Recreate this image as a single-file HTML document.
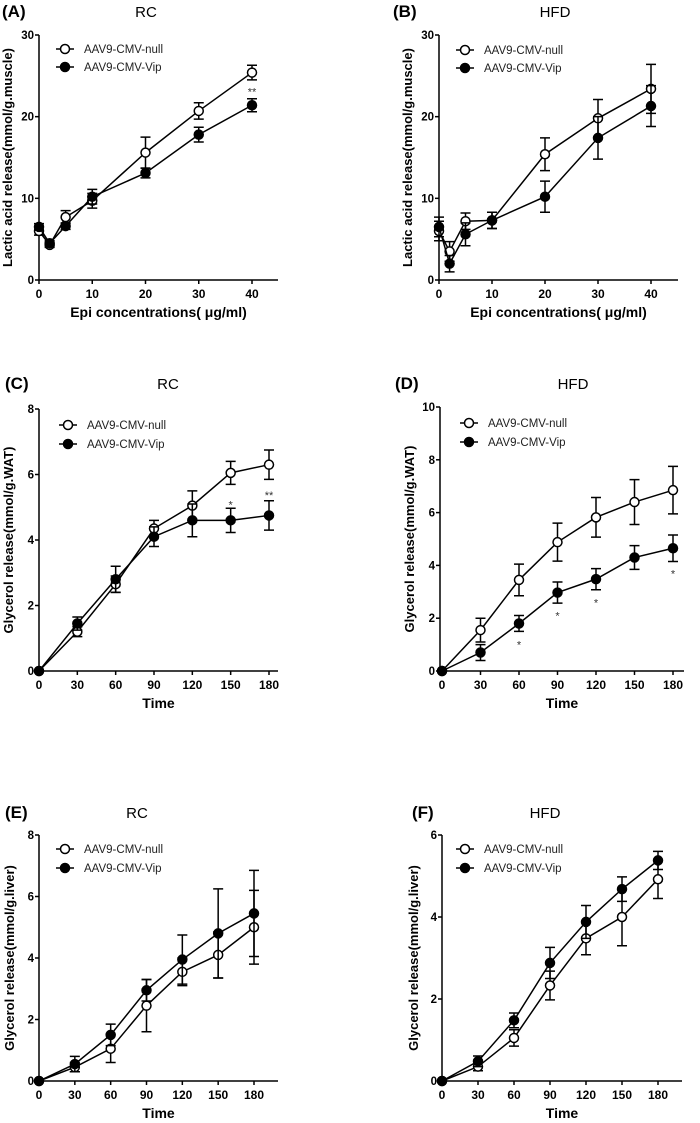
<!DOCTYPE html>
<html><head><meta charset="utf-8"><style>
body{margin:0;background:#fff;}
svg{display:block;font-family:"Liberation Sans",Arial,sans-serif;}
</style></head><body>
<svg id="fig" width="700" height="1123" viewBox="0 0 700 1123"></svg>
<script>
// ---- data ----
const xEpi=[0,2,5,10,20,30,40];
const xTime=[0,30,60,90,120,150,180];
const aNull=[6.0,4.3,7.7,9.7,15.6,20.7,25.4];
const aNullErr=[0.5,0.3,0.8,0.9,1.9,1.0,0.9];
const aVip=[6.5,4.5,6.6,10.2,13.1,17.8,21.4];
const aVipErr=[0.4,0.3,0.4,0.9,0.6,0.9,0.8];
const bNull=[6.0,3.5,7.2,7.3,15.4,19.8,23.4];
const bNullErr=[1.2,1.2,1.0,1.0,2.0,2.3,3.0];
const bVip=[6.5,2.0,5.6,7.3,10.2,17.4,21.3];
const bVipErr=[1.2,1.0,1.4,1.0,1.9,2.6,2.5];
const cNull=[0,1.2,2.65,4.35,5.05,6.05,6.3];
const cNullErr=[0,0.15,0.25,0.25,0.45,0.35,0.45];
const cVip=[0,1.45,2.8,4.1,4.6,4.6,4.75];
const cVipErr=[0,0.2,0.4,0.3,0.5,0.37,0.45];
const dNull=[0,1.55,3.45,4.88,5.82,6.4,6.85];
const dNullErr=[0,0.45,0.6,0.72,0.75,0.85,0.9];
const dVip=[0,0.7,1.8,2.97,3.48,4.3,4.65];
const dVipErr=[0,0.3,0.3,0.4,0.4,0.45,0.5];
const eNull=[0,0.45,1.05,2.45,3.55,4.1,5.0];
const eNullErr=[0,0.15,0.45,0.85,0.45,0.75,1.2];
const eVip=[0,0.55,1.5,2.95,3.95,4.8,5.45];
const eVipErr=[0,0.25,0.35,0.35,0.8,1.45,1.4];
const fNull=[0,0.35,1.05,2.33,3.48,4.0,4.92];
const fNullErr=[0,0.1,0.2,0.35,0.4,0.7,0.47];
const fVip=[0,0.48,1.48,2.88,3.88,4.68,5.38];
const fVipErr=[0,0.13,0.18,0.38,0.4,0.3,0.22];
const epiTicks=[0,10,20,30,40];
const timeTicks=[0,30,60,90,120,150,180];
const seriesNames=["AAV9-CMV-null","AAV9-CMV-Vip"];

const NS="http://www.w3.org/2000/svg";
const svg=document.getElementById('fig');
function el(tag,attrs,parent,text){const e=document.createElementNS(NS,tag);for(const k in attrs)e.setAttribute(k,attrs[k]);if(text!==undefined)e.textContent=text;(parent||svg).appendChild(e);return e;}

function panel(p){
  const g=el('g',{});
  
  
  const sx=v=>p.x0+(v-p.xmin)/(p.xmax-p.xmin)*(p.x1-p.x0);
  const sy=v=>p.y0-(v/p.ymax)*(p.y0-p.y1);
  let t=el('text',{x:p.lblX,y:p.lblY,'font-size':17,'font-weight':'bold'},g,'('+p.id.toUpperCase()+')');
  
  t=el('text',{x:p.titleX,y:p.lblY,'font-size':15,'text-anchor':'middle'},g,p.title);
  
  let a=el('line',{x1:p.axX,y1:p.y1,x2:p.axX,y2:p.y0,stroke:'#000','stroke-width':1.5},g);
  
  a=el('line',{x1:p.axX,y1:p.y0,x2:p.axEnd,y2:p.y0,stroke:'#000','stroke-width':1.5},g);
  
  p.yticks.forEach(v=>{
    el('line',{x1:p.axX-4,y1:sy(v),x2:p.axX,y2:sy(v),stroke:'#000','stroke-width':1.5},g);
    const tl=el('text',{x:p.axX-5,y:sy(v)+4,'font-size':11.5,'font-weight':'bold','text-anchor':'end'},g,v);
    
  });
  p.xticks.forEach(v=>{
    el('line',{x1:sx(v),y1:p.y0,x2:sx(v),y2:p.y0+4,stroke:'#000','stroke-width':1.5},g);
    const tl=el('text',{x:sx(v),y:p.y0+18,'font-size':12,'font-weight':'bold','text-anchor':'middle'},g,v);
    
  });
  t=el('text',{x:(p.axX+p.axEnd)/2,y:p.y0+37,'font-size':14,'font-weight':'bold','text-anchor':'middle'},g,p.xtitle);
  
  const cy=(p.y0+p.y1)/2;
  t=el('text',{x:p.ytX,y:cy,'font-size':13,'font-weight':'bold','text-anchor':'middle',transform:`rotate(-90 ${p.ytX} ${cy})`},g,p.ytitle);
  
  const series=[[p.nul,p.nulErr,'#fff'],[p.vip,p.vipErr,'#000']];
  series.forEach(([vals,errs,fill],si)=>{
    const sg=el('g',{},g);
    
    
    el('polyline',{points:vals.map((v,i)=>sx(p.xs[i])+','+sy(v)).join(' '),fill:'none',stroke:'#000','stroke-width':1.5},sg);
    vals.forEach((v,i)=>{
      const X=sx(p.xs[i]),e=errs[i];
      if(e>0){
        const eb=el('path',{d:`M${X},${sy(v+e)}V${sy(v-e)}M${X-5},${sy(v+e)}H${X+5}M${X-5},${sy(v-e)}H${X+5}`,stroke:'#000','stroke-width':1.5,fill:'none'},sg);
        
      }
      const c=el('circle',{cx:X,cy:sy(v),r:4.5,fill:fill,stroke:'#000','stroke-width':1.5},sg);
      
    });
  });
  (p.stars||[]).forEach(s=>{
    const st=el('text',{x:sx(s[0]),y:sy(s[1])+8,'font-size':11,'text-anchor':'middle',fill:'#333'},g,s[2]);
    
  });
  seriesNames.forEach((n,i)=>{
    const ly=p.legY+i*p.legGap;
    const lg=el('g',{},g);
    
    
    el('line',{x1:p.legX-9,y1:ly,x2:p.legX+9,y2:ly,stroke:'#000','stroke-width':1.5},lg);
    el('circle',{cx:p.legX,cy:ly,r:4.5,fill:i?'#000':'#fff',stroke:'#000','stroke-width':1.5},lg);
    el('text',{x:p.legX+19,y:ly+4,'font-size':11.5,fill:'#222'},lg,n);
  });
}
const epiTitle="Epi concentrations( \u03bcg/ml)";
const la="Lactic acid release(mmol/g.muscle)";
panel({id:'a',title:'RC',lblX:2,lblY:17,titleX:146,axX:39,axEnd:278,x0:39,x1:252,xmin:0,xmax:40,y0:280,y1:35,ymax:30,
  yticks:[0,10,20,30],xticks:epiTicks,xs:xEpi,nul:aNull,nulErr:aNullErr,vip:aVip,vipErr:aVipErr,
  xtitle:epiTitle,ytitle:la,ytX:12,legX:65,legY:49,legGap:18,stars:[[40,23.6,'**']]});
panel({id:'b',title:'HFD',lblX:393,lblY:17,titleX:555,axX:439,axEnd:678,x0:439,x1:651,xmin:0,xmax:40,y0:280,y1:35,ymax:30,
  yticks:[0,10,20,30],xticks:epiTicks,xs:xEpi,nul:bNull,nulErr:bNullErr,vip:bVip,vipErr:bVipErr,
  xtitle:epiTitle,ytitle:la,ytX:412,legX:465,legY:50,legGap:18});
panel({id:'c',title:'RC',lblX:5,lblY:389,titleX:168,axX:39,axEnd:278,x0:39,x1:269,xmin:0,xmax:180,y0:671,y1:409,ymax:8,
  yticks:[0,2,4,6,8],xticks:timeTicks,xs:xTime,nul:cNull,nulErr:cNullErr,vip:cVip,vipErr:cVipErr,
  xtitle:'Time',ytitle:'Glycerol release(mmol/g.WAT)',ytX:13,legX:68,legY:425,legGap:19,stars:[[150,5.2,'*'],[180,5.5,'**']]});
panel({id:'d',title:'HFD',lblX:395,lblY:389,titleX:573,axX:440,axEnd:684,x0:442,x1:673,xmin:0,xmax:180,y0:671,y1:407,ymax:10,
  yticks:[0,2,4,6,8,10],xticks:timeTicks,xs:xTime,nul:dNull,nulErr:dNullErr,vip:dVip,vipErr:dVipErr,
  xtitle:'Time',ytitle:'Glycerol release(mmol/g.WAT)',ytX:414,legX:469,legY:423,legGap:19,
  stars:[[60,1.15,'*'],[90,2.25,'*'],[120,2.75,'*'],[180,3.85,'*']]});
panel({id:'e',title:'RC',lblX:5,lblY:818,titleX:137,axX:39,axEnd:278,x0:39,x1:254,xmin:0,xmax:180,y0:1081,y1:835,ymax:8,
  yticks:[0,2,4,6,8],xticks:timeTicks,xs:xTime,nul:eNull,nulErr:eNullErr,vip:eVip,vipErr:eVipErr,
  xtitle:'Time',ytitle:'Glycerol release(mmol/g.liver)',ytX:14,legX:65,legY:849,legGap:19});
panel({id:'f',title:'HFD',lblX:412,lblY:818,titleX:545,axX:442,axEnd:682,x0:442,x1:658,xmin:0,xmax:180,y0:1081,y1:835,ymax:6,
  yticks:[0,2,4,6],xticks:timeTicks,xs:xTime,nul:fNull,nulErr:fNullErr,vip:fVip,vipErr:fVipErr,
  xtitle:'Time',ytitle:'Glycerol release(mmol/g.liver)',ytX:418,legX:465,legY:849,legGap:19});
</script>
</body></html>
